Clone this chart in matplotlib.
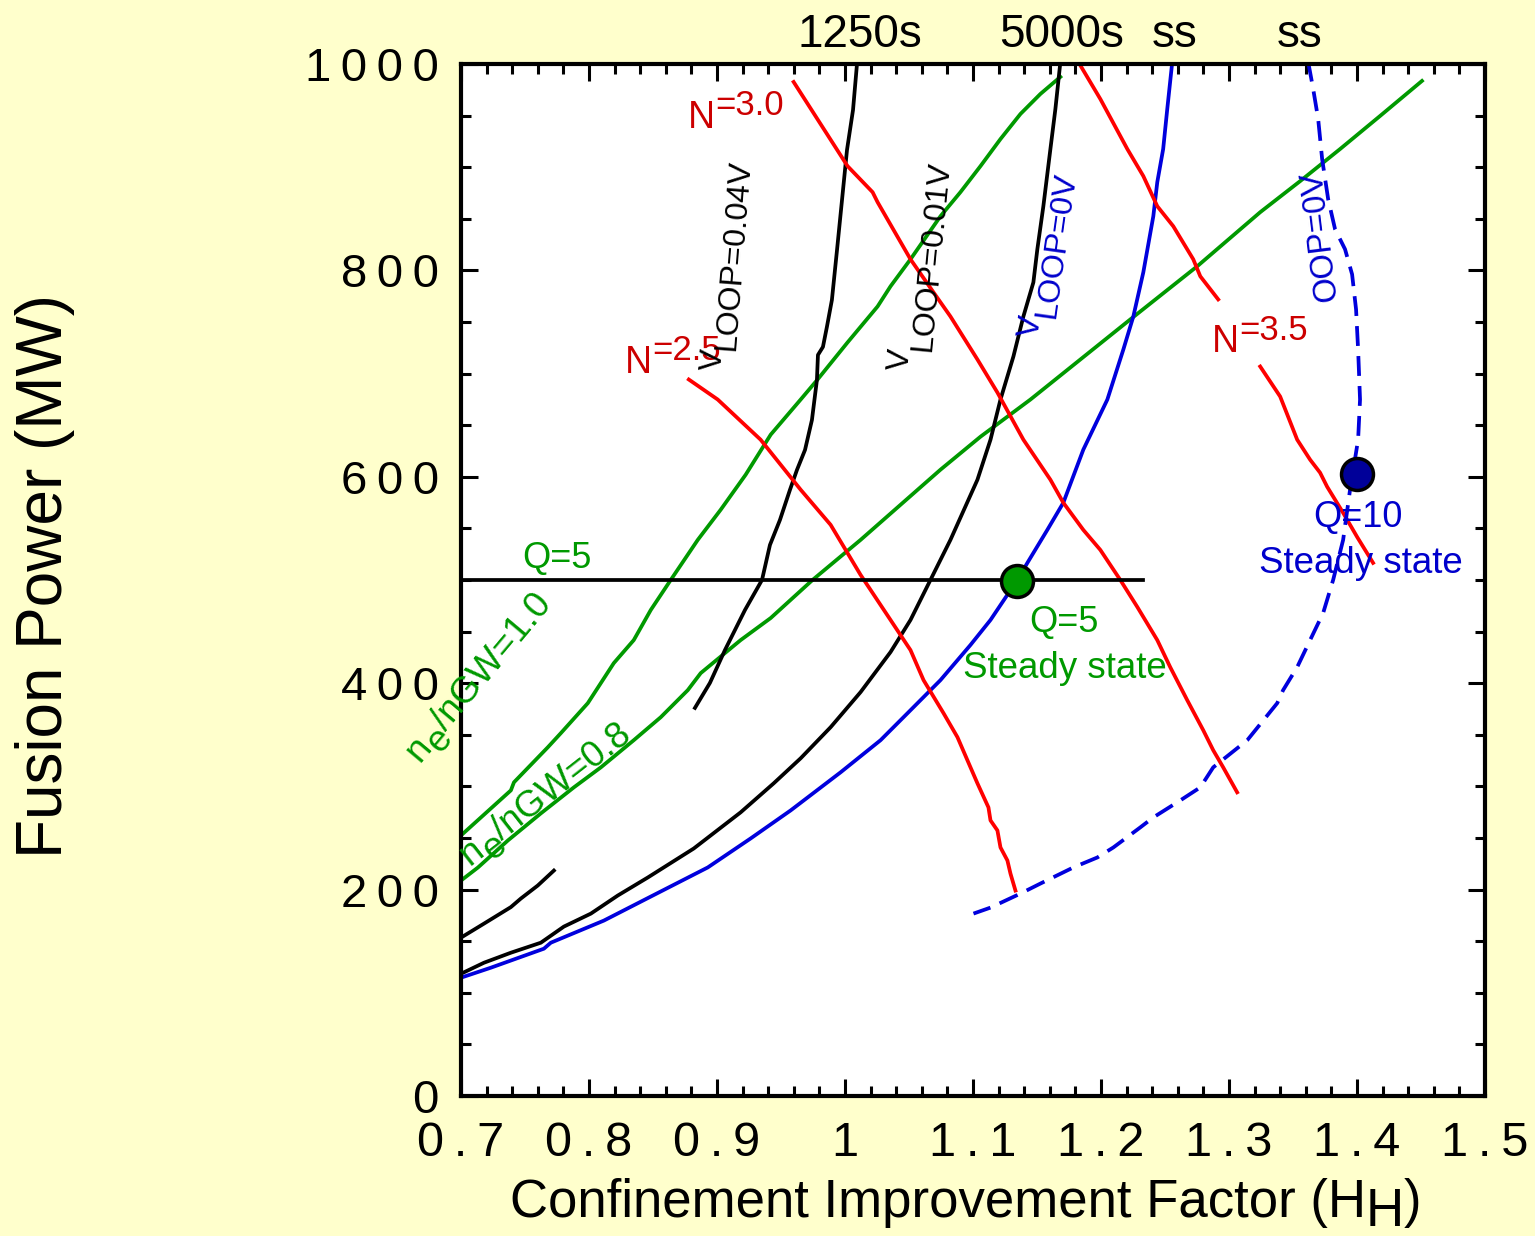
import numpy as np
import matplotlib
matplotlib.use('Agg')
import matplotlib.pyplot as plt
from matplotlib.transforms import ScaledTranslation
from matplotlib.ticker import MultipleLocator, FuncFormatter

plt.rcParams['font.family'] = ['Liberation Sans', 'DejaVu Sans']

# --- curves (H_H, fusion power MW) ---
h_v004 = [0.8828, 0.8945, 0.9063, 0.9219, 0.9352, 0.9414, 0.9492, 0.957, 0.9625, 0.9688, 0.9742,
          0.9781, 0.9789, 0.9828, 0.9859, 0.9898, 0.9938, 0.9977, 1.0016, 1.0063, 1.0094]
p_v004 = [376, 400.2, 432.2, 470.9, 500, 533.9, 558.1, 587.2, 606.6, 626, 655,
          693.8, 718, 725.8, 745.2, 771.3, 819.8, 868.2, 916.7, 955.4, 1000]

h_v004_low = [0.7, 0.718, 0.739, 0.7468, 0.76, 0.7726]
p_v004_low = [153.4, 167, 183, 191.3, 203.9, 218.4]

h_v001 = [0.7, 0.718, 0.739, 0.7624, 0.7804, 0.8015, 0.8225, 0.846, 0.8819, 0.9185, 0.9443, 0.9654,
          0.9888, 1.0122, 1.0356, 1.0512, 1.0668, 1.0824, 1.1035, 1.1137, 1.1215, 1.1316, 1.1394,
          1.1472, 1.1503, 1.155, 1.1605, 1.1644, 1.1683]
p_v001 = [118.4, 129.1, 138.8, 148.5, 164.1, 176.7, 194.2, 211.7, 239.8, 274.8, 302.9, 327.2,
          357.3, 391.3, 430.1, 461.2, 500, 538.8, 597.1, 635.9, 674.8, 716.5, 755.3,
          788.3, 820.4, 862.1, 917.5, 956.3, 1001.9]

h_v0 = [0.7, 0.7234, 0.7648, 0.7702, 0.8116, 0.8483, 0.8928, 0.9263, 0.9576, 0.9966, 1.0278, 1.0489,
        1.0746, 1.098, 1.1137, 1.1347, 1.1425, 1.1581, 1.1706, 1.1862, 1.205, 1.2175, 1.2253,
        1.2331, 1.2409, 1.244, 1.2486, 1.2518, 1.2557]
p_v0 = [114.6, 124.3, 142.7, 148.5, 169.9, 193.2, 221.4, 249.5, 276.7, 313.6, 344.7, 370.9,
        402.9, 436.9, 461.2, 500, 516.5, 548.5, 574.8, 626.2, 674.8, 723.3, 755.3,
        798.1, 852.4, 885.4, 917.5, 956.3, 1001.9]

h_gw10 = [0.7, 0.739, 0.7414, 0.7679, 0.778, 0.7991, 0.8194, 0.835, 0.8483, 0.8639, 0.885, 0.9029,
          0.9224, 0.942, 0.9654, 0.9786, 1.002, 1.0255, 1.0356, 1.0512, 1.0746, 1.0902, 1.1059,
          1.1215, 1.1371, 1.1527, 1.1683]
p_gw10 = [252.4, 296.1, 303.9, 337.9, 351.5, 380.6, 419.4, 441.7, 470.9, 500, 538.8, 568,
          601.9, 640.8, 674.8, 694.2, 730.1, 765, 784.5, 810.7, 852.4, 875.7, 901,
          927.2, 951.5, 970.9, 987.4]

h_gw08 = [0.7, 0.7133, 0.7367, 0.7624, 0.7882, 0.8093, 0.835, 0.8561, 0.8772, 0.8873, 0.9185, 0.942,
          0.9747, 1.0122, 1.0434, 1.0746, 1.1059, 1.1449, 1.1839, 1.2229, 1.2752, 1.3244, 1.3556,
          1.3868, 1.418, 1.4508]
p_gw08 = [208.7, 221.4, 247.6, 273.8, 299, 318.4, 344.7, 367, 393.2, 409.7, 441.7, 463.1,
          500, 538.8, 572.8, 606.8, 638.8, 674.8, 713.6, 752.4, 803.9, 856.3, 886.4,
          917.5, 949.5, 983.5]

h_bn25 = [0.878, 0.9006, 0.9341, 0.9654, 0.9888, 1.0122, 1.0356, 1.0512, 1.0614, 1.077, 1.0879,
          1.0957, 1.1035, 1.1121, 1.1137, 1.1191, 1.1215, 1.1269, 1.1293, 1.1332]
p_bn25 = [694.2, 674.8, 635.9, 587.4, 553.4, 504.9, 461.2, 432, 402.9, 370.9, 347.6,
          325.2, 302.9, 279.6, 267, 257.3, 240.8, 228.2, 215.5, 199]

h_bn30 = [0.9599, 1.002, 1.0216, 1.0255, 1.0512, 1.0692, 1.0824, 1.1035, 1.1191, 1.1394, 1.1605,
          1.1706, 1.1862, 1.1995, 1.2151, 1.2284, 1.244, 1.2541, 1.2674, 1.2799, 1.2877, 1.2955, 1.3064]
p_bn30 = [982.5, 901, 875.7, 866, 810.7, 778.6, 755.3, 713.6, 681.6, 635.9, 597.1,
          574.8, 548.5, 529.1, 500, 473.8, 441.7, 415.5, 383.5, 354.4, 335, 318.4, 294.2]

h_bn35_top = [1.1823, 1.1995, 1.2206, 1.2331, 1.244, 1.2565, 1.2721, 1.2776, 1.2916]
p_bn35_top = [1001.9, 966, 917.5, 891.3, 862.1, 842.7, 810.7, 794.2, 771.8]
h_bn35_low = [1.3244, 1.34, 1.3533, 1.3634, 1.3712, 1.3767, 1.3892, 1.4001, 1.4126]
p_bn35_low = [706.8, 677.7, 635.9, 616.5, 603.9, 590.3, 565, 541.7, 516.5]

h_oop = [1.3619, 1.3658, 1.3697, 1.3728, 1.3775, 1.3829, 1.3907, 1.3962, 1.3993, 1.4009, 1.4024,
         1.4009, 1.3946, 1.3892, 1.3814, 1.3736, 1.3634, 1.3533, 1.3423, 1.3377, 1.3143, 1.2877,
         1.2776, 1.262, 1.2409, 1.2307, 1.2097, 1.1972, 1.1784, 1.1527, 1.1371, 1.1137, 1.1004]
p_oop = [1001.9, 975.7, 946.6, 907.8, 868.9, 839.8, 820.4, 796.1, 762.1, 723.3, 674.8,
         635.9, 587.4, 538.8, 500, 468, 441.7, 415.5, 393.2, 380.6, 344.7, 318.4,
         299, 286.4, 269.9, 260.2, 240.8, 231.1, 221.4, 205.8, 196.1, 182.5, 176.7]

q5_h = [0.7, 1.233]
q5_p = [500, 500]

pt_q5 = (1.1347, 499)
pt_q10 = (1.4001, 603)

red, red_txt = '#FF0000', '#CC0000'
green = '#009900'
blue, blue_txt = '#0000DD', '#0000CC'

fig = plt.figure(figsize=(15.35, 12.36), dpi=100, facecolor='#FFFFCC')
ax = fig.add_axes([0.3003, 0.1133, 0.6671, 0.8350])

lw = 2.7
ax.plot(h_gw10, p_gw10, color=green, lw=lw)
ax.plot(h_gw08, p_gw08, color=green, lw=lw)
ax.plot(h_v004, p_v004, color='black', lw=lw)
ax.plot(h_v004_low, p_v004_low, color='black', lw=lw)
ax.plot(h_v001, p_v001, color='black', lw=lw)
ax.plot(h_v0, p_v0, color=blue, lw=lw)
ax.plot(h_bn25, p_bn25, color=red, lw=lw)
ax.plot(h_bn30, p_bn30, color=red, lw=lw)
ax.plot(h_bn35_top, p_bn35_top, color=red, lw=lw)
ax.plot(h_bn35_low, p_bn35_low, color=red, lw=lw)
ax.plot(h_oop, p_oop, color=blue, lw=lw, dashes=(5.3, 2.7))
ax.plot(q5_h, q5_p, color='black', lw=lw)
ax.plot(*pt_q5, 'o', ms=23, mfc=green, mec='black', mew=2.5, zorder=5)
ax.plot(*pt_q10, 'o', ms=23, mfc='#000099', mec='black', mew=2.5, zorder=5)

ax.set_xlim(0.7, 1.5)
ax.set_ylim(0, 1000)
ax.xaxis.set_major_locator(MultipleLocator(0.1))
ax.xaxis.set_minor_locator(MultipleLocator(0.02))
ax.yaxis.set_major_locator(MultipleLocator(200))
ax.yaxis.set_minor_locator(MultipleLocator(50))
ax.xaxis.set_major_formatter(FuncFormatter(lambda v, p: '\u2009'.join(f'{round(v, 2):g}')))
ax.yaxis.set_major_formatter(FuncFormatter(lambda v, p: '\u2009'.join(f'{int(round(v))}')))
ax.tick_params(which='both', direction='in', top=True, right=True, width=2.2)
ax.tick_params(which='major', length=12)
ax.tick_params(which='minor', length=7)
ax.tick_params(axis='x', labelsize=35, pad=18)
ax.tick_params(axis='y', labelsize=34, pad=16)
for s in ax.spines.values():
    s.set_linewidth(3)

renderer = fig.canvas.get_renderer()


def multi_text(x, y, parts, rot=0, size=24, color='black', trans=None):
    # pieces laid along one baseline: (text, drop[, size]); drop > 0 lowers a piece, < 0 raises it
    trans = ax.transData if trans is None else trans
    a = np.radians(rot)
    pos = 0.0
    for part in parts:
        s, drop = part[0], part[1]
        fs = part[2] if len(part) > 2 else size
        dx = (pos * np.cos(a) + drop * np.sin(a)) / fig.dpi
        dy = (pos * np.sin(a) - drop * np.cos(a)) / fig.dpi
        t = ax.text(x, y, s, transform=trans + ScaledTranslation(dx, dy, fig.dpi_scale_trans),
                    rotation=rot, rotation_mode='anchor', ha='left', va='baseline',
                    fontsize=fs, color=color, clip_on=False)
        w, h, d = renderer.get_text_width_height_descent(s, t.get_fontproperties(), ismath=False)
        pos += w


# top labels
for xx, s in zip([1.0117, 1.1695, 1.2578, 1.3555], ['1250s', '5000s', 'ss', 'ss']):
    ax.text(xx, 1016.5, s, ha='center', va='baseline', fontsize=33, clip_on=False)

# beta_N labels (beta glyph lost in the original)
multi_text(0.8773, 938, [('N', 0, 27), ('=3.0', -13)], size=25, color=red_txt)
multi_text(0.8281, 700.6, [('N', 0, 27), ('=2.5', -13)], size=25, color=red_txt)
multi_text(1.2867, 721, [('N', 0, 27), ('=3.5', -12)], size=25, color=red_txt)

# loop voltage labels
multi_text(0.9031, 702.5, [('V', 0), ('LOOP=0.04V', 12)], rot=85.5, size=23)
multi_text(1.0492, 702.5, [('V', 0), ('LOOP=0.01V', 20)], rot=84.5, size=23)
multi_text(1.1508, 734.5, [('V', 0), ('LOOP=0V', 14)], rot=82, size=23, color=blue_txt)
multi_text(1.3842, 771.3, [('OOP=0V', 0)], rot=97, size=23.5, color=blue_txt)

# density labels
multi_text(0.668, 322.7, [('n', 0), ('e', 10), ('/nGW=1.0', 0)], rot=50, size=26.5, color=green)
multi_text(0.707, 222.9, [('n', 0), ('e', 10), ('/nGW=0.8', 0)], rot=38, size=26.5, color=green)

# operating points
ax.text(0.775, 511.6, 'Q=5', ha='center', va='baseline', fontsize=26, color=green)
ax.text(1.1711, 449.6, 'Q=5', ha='center', va='baseline', fontsize=26, color=green)
ax.text(1.1719, 405, 'Steady state', ha='center', va='baseline', fontsize=26.5, color=green)
ax.text(1.4008, 551.4, 'Q=10', ha='center', va='baseline', fontsize=26, color=blue_txt, clip_on=False)
ax.text(1.4031, 506.8, 'Steady state', ha='center', va='baseline', fontsize=26.5, color=blue_txt,
        clip_on=False)

# axis titles
fig.text(0.0293, 0.534, 'Fusion Power (MW)', rotation=90, ha='center', va='center', fontsize=46)
multi_text(0.3322, 0.0155, [('Confinement Improvement Factor (H', 0), ('H', 9), (')', 0)],
           size=38, trans=fig.transFigure)

fig.savefig('out.png', dpi=100, facecolor=fig.get_facecolor())
